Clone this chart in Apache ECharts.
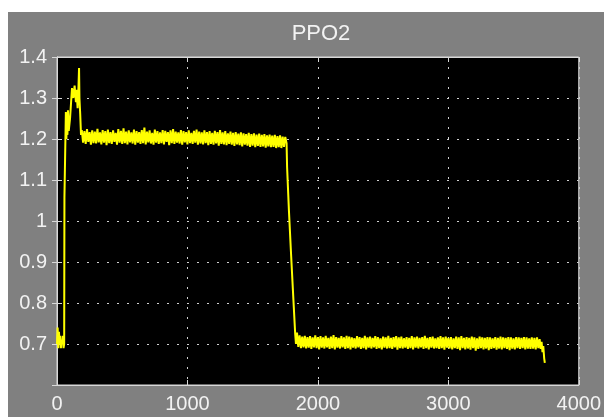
<!DOCTYPE html>
<html>
<head>
<meta charset="utf-8">
<title>PPO2</title>
<script src="https://cdn.jsdelivr.net/npm/echarts@6/dist/echarts.min.js"></script>
<style>
  html, body { margin: 0; padding: 0; background: #ffffff; }
  #chart { position: absolute; left: 8px; top: 12px; width: 596px; height: 405px; }
</style>
</head>
<body>
<div id="chart"></div>
<script>
// Axis ticks
const xTicks = [0, 1000, 2000, 3000, 4000];
const yTicks = [0.6, 0.7, 0.8, 0.9, 1.0, 1.1, 1.2, 1.3, 1.4];

// Start-up: [time, ppo2]
const startPoints = [
  [0, 0.70], [5, 0.74], [10, 0.69], [15, 0.73], [20, 0.70], [25, 0.72],
  [30, 0.69], [35, 0.71], [40, 0.70], [45, 0.72], [50, 0.69], [55, 0.70],
  [57, 1.058], [66, 1.058], [68, 1.266], [72, 1.20], [76, 1.26], [80, 1.21],
  [84, 1.27], [90, 1.22], [100, 1.25], [110, 1.30], [115, 1.324], [125, 1.30],
  [135, 1.33], [145, 1.29], [150, 1.32], [158, 1.275], [165, 1.33], [169, 1.373],
  [172, 1.30], [178, 1.26], [184, 1.21]
];

// High plateau, one sample every 10 s from t = 190
const sampleStep = 10;
const upperBandStart = 190;
const upperBand = [
  1.222, 1.191, 1.219, 1.188, 1.224, 1.193, 1.217, 1.186, 1.221, 1.190,
  1.218, 1.189, 1.225, 1.192, 1.216, 1.187, 1.222, 1.191, 1.219, 1.185,
  1.223, 1.190, 1.217, 1.188, 1.221, 1.193, 1.215, 1.186, 1.224, 1.191,
  1.220, 1.188, 1.226, 1.190, 1.218, 1.187, 1.221, 1.192, 1.216, 1.189,
  1.223, 1.186, 1.219, 1.191, 1.217, 1.188, 1.222, 1.190, 1.228, 1.187,
  1.218, 1.192, 1.221, 1.189, 1.215, 1.186, 1.223, 1.191, 1.219, 1.188,
  1.216, 1.190, 1.222, 1.187, 1.220, 1.193, 1.217, 1.185, 1.221, 1.190,
  1.224, 1.188, 1.218, 1.191, 1.216, 1.189, 1.222, 1.186, 1.219, 1.192,
  1.217, 1.187, 1.221, 1.190, 1.215, 1.188, 1.220, 1.191, 1.223, 1.186,
  1.218, 1.189, 1.216, 1.187, 1.221, 1.190, 1.217, 1.185, 1.219, 1.188,
  1.215, 1.186, 1.220, 1.189, 1.217, 1.184, 1.222, 1.188, 1.216, 1.187,
  1.219, 1.185, 1.214, 1.188, 1.218, 1.186, 1.215, 1.183, 1.217, 1.187,
  1.213, 1.185, 1.216, 1.182, 1.214, 1.186, 1.212, 1.184, 1.215, 1.181,
  1.212, 1.184, 1.214, 1.180, 1.211, 1.183, 1.213, 1.181, 1.210, 1.182,
  1.212, 1.179, 1.209, 1.182, 1.211, 1.180, 1.208, 1.181, 1.210, 1.178,
  1.207, 1.180, 1.209, 1.178, 1.206, 1.181, 1.205
];

// Drop between the plateaus: [time, ppo2]
const dropPoints = [
  [1760, 1.19], [1764, 1.131], [1778, 1.026], [1793, 0.928],
  [1808, 0.835], [1826, 0.725], [1832, 0.700]
];

// Low plateau, one sample every 10 s from t = 1840
const lowerBandStart = 1840;
const lowerBand = [
  0.728, 0.693, 0.721, 0.690, 0.718, 0.692, 0.720, 0.689, 0.717, 0.691,
  0.719, 0.688, 0.716, 0.692, 0.721, 0.690, 0.717, 0.687, 0.719, 0.691,
  0.716, 0.689, 0.720, 0.692, 0.715, 0.688, 0.718, 0.690, 0.722, 0.687,
  0.717, 0.691, 0.715, 0.689, 0.719, 0.692, 0.716, 0.688, 0.720, 0.690,
  0.718, 0.687, 0.716, 0.691, 0.714, 0.689, 0.719, 0.692, 0.717, 0.688,
  0.715, 0.690, 0.720, 0.687, 0.716, 0.691, 0.718, 0.689, 0.715, 0.692,
  0.719, 0.688, 0.717, 0.690, 0.714, 0.687, 0.718, 0.691, 0.716, 0.689,
  0.720, 0.690, 0.715, 0.688, 0.717, 0.692, 0.719, 0.686, 0.716, 0.690,
  0.718, 0.689, 0.714, 0.691, 0.717, 0.688, 0.715, 0.690, 0.719, 0.687,
  0.716, 0.691, 0.718, 0.689, 0.715, 0.692, 0.717, 0.688, 0.720, 0.690,
  0.715, 0.687, 0.717, 0.691, 0.718, 0.689, 0.714, 0.690, 0.716, 0.688,
  0.719, 0.690, 0.716, 0.686, 0.718, 0.691, 0.715, 0.689, 0.717, 0.687,
  0.714, 0.690, 0.718, 0.688, 0.716, 0.685, 0.719, 0.690, 0.715, 0.687,
  0.717, 0.689, 0.715, 0.686, 0.718, 0.690, 0.716, 0.684, 0.714, 0.688,
  0.718, 0.690, 0.716, 0.687, 0.715, 0.689, 0.717, 0.685, 0.716, 0.688,
  0.714, 0.690, 0.717, 0.686, 0.715, 0.689, 0.718, 0.687, 0.716, 0.690,
  0.715, 0.688, 0.717, 0.685, 0.716, 0.689, 0.714, 0.687, 0.717, 0.690,
  0.716, 0.688, 0.715, 0.690, 0.717, 0.687, 0.716, 0.689, 0.714, 0.688,
  0.716, 0.689, 0.715, 0.687, 0.716
];

// Tail at the end of the run: [time, ppo2]
const endPoints = [
  [3690, 0.690], [3700, 0.712], [3708, 0.688], [3715, 0.705],
  [3722, 0.680], [3728, 0.695], [3735, 0.665], [3740, 0.654]
];

(function() {
  'use strict';

  document.addEventListener('DOMContentLoaded', function() {
    initChart();
  });

  /**
   * Put all pieces of the trace together as [time, value] pairs
   */
  function buildTrace() {
    const trace = startPoints.slice();
    upperBand.forEach(function(v, i) {
      trace.push([upperBandStart + i * sampleStep, v]);
    });
    dropPoints.forEach(function(p) { trace.push(p); });
    lowerBand.forEach(function(v, i) {
      trace.push([lowerBandStart + i * sampleStep, v]);
    });
    endPoints.forEach(function(p) { trace.push(p); });
    return trace;
  }

  /**
   * Scope style chart
   */
  function initChart() {
    const chartDom = document.getElementById('chart');
    const myChart = echarts.init(chartDom);

    const font = '"Liberation Sans", Arial, sans-serif';
    const labelColor = '#f2f2f2';
    const frameColor = '#d8d8d8';
    const dotted = { color: '#cfcfcf', width: 1, type: [2, 8] };

    const option = {
      animation: false,
      backgroundColor: '#808080',
      title: {
        text: 'PPO2',
        left: 308,
        top: 6,
        textAlign: 'center',
        textStyle: { color: labelColor, fontFamily: font, fontSize: 22, fontWeight: 'normal' }
      },
      grid: {
        left: 49, top: 45, right: 25, bottom: 32,
        show: true,
        backgroundColor: '#000000',
        borderColor: frameColor,
        borderWidth: 1
      },
      xAxis: [
        {
          type: 'value',
          min: xTicks[0],
          max: xTicks[xTicks.length - 1],
          interval: 1000,
          position: 'bottom',
          axisLine: { show: true, lineStyle: { color: frameColor } },
          axisTick: { show: true, inside: true, length: 5, lineStyle: { color: frameColor } },
          axisLabel: {
            color: labelColor, fontFamily: font, fontSize: 20, margin: 9,
            formatter: function(v) { return String(v); }
          },
          splitLine: { show: true, lineStyle: dotted }
        },
        {
          type: 'value',
          min: xTicks[0],
          max: xTicks[xTicks.length - 1],
          interval: 1000,
          position: 'top',
          axisLine: { show: true, lineStyle: { color: frameColor } },
          axisTick: { show: true, inside: true, length: 5, lineStyle: { color: frameColor } },
          axisLabel: { show: false },
          splitLine: { show: false }
        }
      ],
      yAxis: [
        {
          type: 'value',
          min: yTicks[0],
          max: yTicks[yTicks.length - 1],
          interval: 0.1,
          position: 'left',
          axisLine: { show: true, lineStyle: { color: frameColor } },
          axisTick: { show: true, inside: true, length: 5, lineStyle: { color: frameColor } },
          axisLabel: {
            color: labelColor, fontFamily: font, fontSize: 20, margin: 10,
            formatter: function(v) {
              // bottom tick has no label in the original
              return v < 0.65 ? '' : String(Math.round(v * 10) / 10);
            }
          },
          splitLine: { show: true, lineStyle: dotted }
        },
        {
          type: 'value',
          min: yTicks[0],
          max: yTicks[yTicks.length - 1],
          interval: 0.1,
          position: 'right',
          axisLine: { show: true, lineStyle: { color: frameColor } },
          axisTick: { show: true, inside: true, length: 5, lineStyle: { color: frameColor } },
          axisLabel: { show: false },
          splitLine: { show: false }
        }
      ],
      series: [
        {
          name: 'PPO2',
          type: 'line',
          xAxisIndex: 0,
          yAxisIndex: 0,
          data: buildTrace(),
          showSymbol: false,
          clip: true,
          lineStyle: { color: '#ffff00', width: 2 }
        }
      ]
    };

    myChart.setOption(option);
  }

})();
</script>
</body>
</html>
